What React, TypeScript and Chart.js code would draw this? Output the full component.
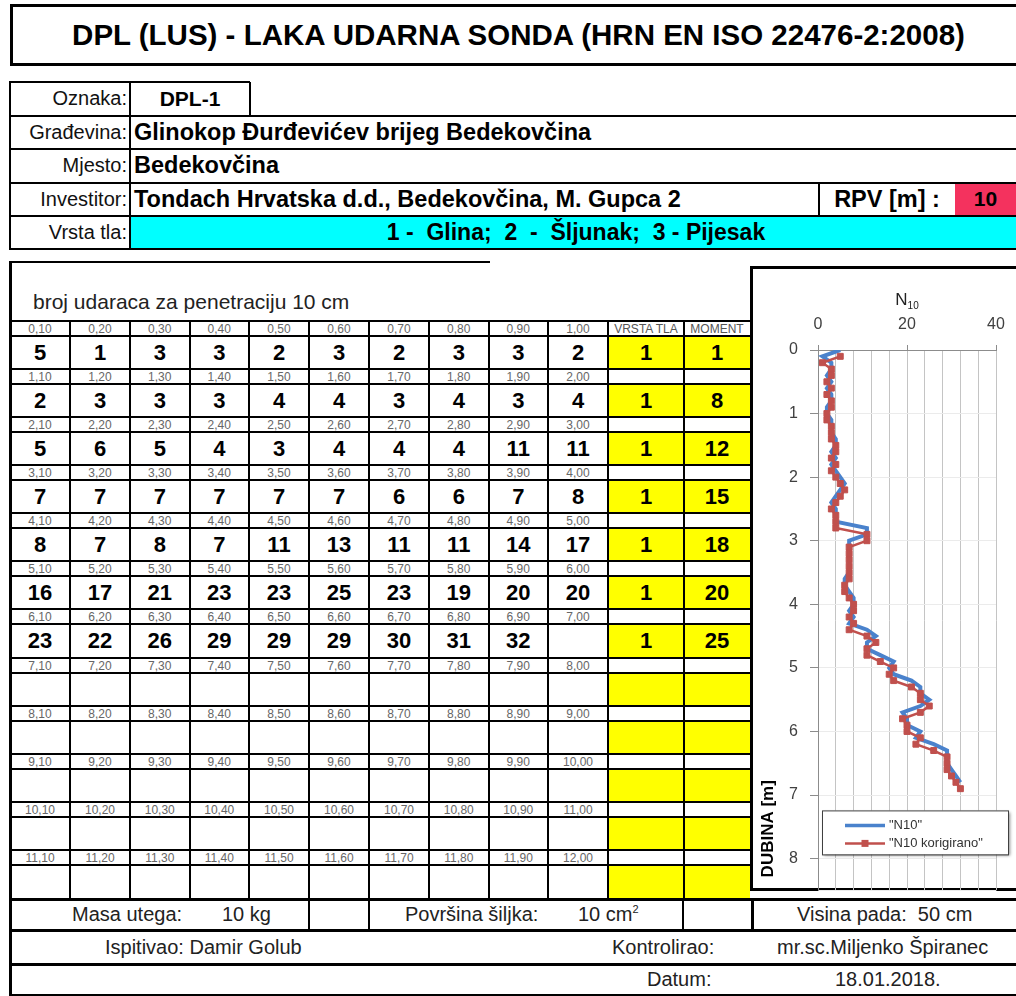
import React, { useEffect, useRef } from 'react';
import { Chart, registerables } from 'chart.js';

Chart.register(...registerables);

const FONT = '"Liberation Sans", Arial, Helvetica, sans-serif';

// ---- data read from the sheet ----
const n10Values = [
  5, 1, 3, 3, 2, 3, 2, 3, 3, 2,
  2, 3, 3, 3, 4, 4, 3, 4, 3, 4,
  5, 6, 5, 4, 3, 4, 4, 4, 11, 11,
  7, 7, 7, 7, 7, 7, 6, 6, 7, 8,
  8, 7, 8, 7, 11, 13, 11, 11, 14, 17,
  16, 17, 21, 23, 23, 25, 23, 19, 20, 20,
  23, 22, 26, 29, 29, 29, 30, 31, 32,
];
const n10Corrected = [
  5, 1, 3, 3, 2, 3, 2, 3, 3, 2,
  2, 3, 3, 3, 4, 4, 3, 4, 3, 4,
  5, 6, 5, 4, 3, 4, 4, 4, 11, 11,
  7, 7, 7, 7, 7, 7, 6, 6, 7, 8,
  8, 7, 8, 7, 11, 13, 11, 11, 14, 17,
  16, 17, 21, 23, 23, 25, 23, 19, 20, 20,
  23, 22, 26, 29, 29, 29, 30, 31, 32,
];
// depth of each blow count (bottom of the 10 cm interval)
const depths = [
  0.1, 0.2, 0.3, 0.4, 0.5, 0.6, 0.7, 0.8, 0.9, 1.0,
  1.1, 1.2, 1.3, 1.4, 1.5, 1.6, 1.7, 1.8, 1.9, 2.0,
  2.1, 2.2, 2.3, 2.4, 2.5, 2.6, 2.7, 2.8, 2.9, 3.0,
  3.1, 3.2, 3.3, 3.4, 3.5, 3.6, 3.7, 3.8, 3.9, 4.0,
  4.1, 4.2, 4.3, 4.4, 4.5, 4.6, 4.7, 4.8, 4.9, 5.0,
  5.1, 5.2, 5.3, 5.4, 5.5, 5.6, 5.7, 5.8, 5.9, 6.0,
  6.1, 6.2, 6.3, 6.4, 6.5, 6.6, 6.7, 6.8, 6.9,
];
// the plain N10 line is drawn at the top of each interval
const n10Depths = [
  0.0, 0.1, 0.2, 0.3, 0.4, 0.5, 0.6, 0.7, 0.8, 0.9,
  1.0, 1.1, 1.2, 1.3, 1.4, 1.5, 1.6, 1.7, 1.8, 1.9,
  2.0, 2.1, 2.2, 2.3, 2.4, 2.5, 2.6, 2.7, 2.8, 2.9,
  3.0, 3.1, 3.2, 3.3, 3.4, 3.5, 3.6, 3.7, 3.8, 3.9,
  4.0, 4.1, 4.2, 4.3, 4.4, 4.5, 4.6, 4.7, 4.8, 4.9,
  5.0, 5.1, 5.2, 5.3, 5.4, 5.5, 5.6, 5.7, 5.8, 5.9,
  6.0, 6.1, 6.2, 6.3, 6.4, 6.5, 6.6, 6.7, 6.8,
];
const soilTypes = [1, 1, 1, 1, 1, 1, 1];
const moments = [1, 8, 12, 15, 18, 20, 25];
const xTickLabels = [0, 20, 40];
const yTickLabels = [0, 1, 2, 3, 4, 5, 6, 7, 8];
const seriesLabels = ['"N10"', '"N10 korigirano"'];
const yAxisTitle = 'DUBINA [m]';

const BLUE = '#4a82cc';
const RED = '#c0504d';

// ---- layout geometry ----
const colX = [10, 70, 130, 189.5, 249, 309, 369, 429, 488.5, 548, 608, 684, 750];
const GRID_TOP = 321;
const BLOCK = 48.08;
const LABEL_H = 15;
const CANVAS_H = 642;

type R = { x: number; y: number; w: number; h: number; c: string };

function depthLabel(row: number, col: number) {
  const whole = row + Math.floor((col + 1) / 10);
  const frac = ((col + 1) % 10) * 10;
  return `${whole},${frac === 0 ? '00' : String(frac)}`;
}

const titlePlugin = {
  id: 'n10Title',
  afterDraw(chart: any) {
    const { ctx, chartArea } = chart;
    const cx = (chartArea.left + chartArea.right) / 2;
    ctx.save();
    ctx.fillStyle = '#222';
    ctx.textBaseline = 'alphabetic';
    ctx.font = `17px ${FONT}`;
    const wN = ctx.measureText('N').width;
    ctx.font = `10px ${FONT}`;
    const wS = ctx.measureText('10').width;
    const x0 = cx - (wN + wS) / 2;
    ctx.font = `17px ${FONT}`;
    ctx.fillText('N', x0, 35);
    ctx.font = `10px ${FONT}`;
    ctx.fillText('10', x0 + wN, 39);
    // vertical axis title, anchored at the bottom of the plot
    ctx.save();
    ctx.translate(14, chartArea.bottom - 13);
    ctx.rotate(-Math.PI / 2);
    ctx.font = `bold 17px ${FONT}`;
    ctx.fillStyle = '#000';
    ctx.textAlign = 'left';
    ctx.textBaseline = 'middle';
    ctx.fillText(yAxisTitle, 0, 0);
    ctx.restore();
    ctx.restore();
  },
};

const legendPlugin = {
  id: 'boxLegend',
  afterDraw(chart: any) {
    const { ctx, chartArea } = chart;
    const x = chartArea.left + 4;
    const y = chartArea.bottom - 80;
    const w = 186;
    const h = 44;
    ctx.save();
    ctx.shadowColor = 'rgba(0,0,0,0.45)';
    ctx.shadowBlur = 3;
    ctx.shadowOffsetX = 2;
    ctx.shadowOffsetY = 2;
    ctx.fillStyle = '#ffffff';
    ctx.fillRect(x, y, w, h);
    ctx.shadowColor = 'rgba(0,0,0,0)';
    ctx.strokeStyle = '#404040';
    ctx.lineWidth = 1;
    ctx.strokeRect(x + 0.5, y + 0.5, w, h);
    [0, 1].forEach((di, i) => {
      const ds = chart.data.datasets[di];
      const ly = y + 15 + i * 18;
      ctx.strokeStyle = ds.borderColor;
      ctx.lineWidth = Math.min(ds.borderWidth, 3.5);
      ctx.beginPath();
      ctx.moveTo(x + 23, ly);
      ctx.lineTo(x + 63, ly);
      ctx.stroke();
      if (ds.pointRadius > 0) {
        ctx.fillStyle = ds.borderColor;
        ctx.fillRect(x + 43 - 3.5, ly - 3.5, 7, 7);
      }
      ctx.fillStyle = '#333';
      ctx.font = `13px ${FONT}`;
      ctx.textBaseline = 'middle';
      ctx.fillText(ds.label, x + 67, ly);
    });
    ctx.restore();
  },
};

function N10Chart() {
  const ref = useRef<HTMLCanvasElement | null>(null);
  useEffect(() => {
    if (!ref.current) return;
    const chart = new Chart(ref.current, {
      type: 'scatter',
      data: {
        datasets: [
          {
            label: seriesLabels[0],
            data: n10Values.map((v, i) => ({ x: v, y: n10Depths[i] })),
            showLine: true,
            borderColor: BLUE,
            backgroundColor: BLUE,
            borderWidth: 4,
            pointRadius: 0,
            order: 1,
          } as any,
          {
            label: seriesLabels[1],
            data: n10Corrected.map((v, i) => ({ x: v, y: depths[i] })),
            showLine: true,
            borderColor: RED,
            backgroundColor: RED,
            borderWidth: 2.5,
            pointStyle: 'rect',
            pointRadius: 4.2,
            pointBorderWidth: 1,
            pointBackgroundColor: RED,
            pointBorderColor: RED,
            order: 0,
          } as any,
        ],
      },
      options: {
        animation: false,
        responsive: false,
        maintainAspectRatio: false,
        layout: { padding: { top: 0, right: 20, bottom: 0, left: 0 } },
        plugins: { legend: { display: false }, tooltip: { enabled: false }, title: { display: false } },
        scales: {
          x: {
            type: 'linear',
            position: 'top',
            min: 0,
            max: 40,
            ticks: {
              stepSize: 4,
              autoSkip: false,
              maxRotation: 0,
              padding: 11,
              color: '#404040',
              font: { size: 16, family: FONT },
              callback: (v: any) => (xTickLabels.includes(Number(v)) ? String(v) : ''),
            },
            grid: {
              color: '#c4c4c4',
              lineWidth: 1,
              tickLength: 5,
              tickColor: (c: any) => (c.tick && xTickLabels.includes(c.tick.value) ? '#8c8c8c' : 'rgba(0,0,0,0)'),
            },
            border: { color: '#8c8c8c' },
            afterFit: (s: any) => { s.height = 80; },
          },
          y: {
            type: 'linear',
            reverse: true,
            min: 0,
            max: 8.5,
            ticks: {
              stepSize: 1,
              autoSkip: false,
              padding: 12,
              color: '#404040',
              font: { size: 16, family: FONT },
              callback: (v: any) => (yTickLabels.includes(Number(v)) ? String(v) : ''),
            },
            grid: {
              color: '#ebebeb',
              lineWidth: 1,
              tickLength: 8,
              tickColor: (c: any) => (c.tick && yTickLabels.includes(c.tick.value) ? '#8c8c8c' : 'rgba(0,0,0,0)'),
            },
            border: { color: '#8c8c8c' },
            title: { display: false },
            afterFit: (s: any) => { s.width = 64; },
          },
        },
      } as any,
      plugins: [titlePlugin, legendPlugin],
    });
    return () => chart.destroy();
  }, []);
  return (
    <canvas
      ref={ref}
      width={262}
      height={CANVAS_H}
      style={{ position: 'absolute', left: 754, top: 270, width: 262, height: CANVAS_H }}
    />
  );
}

function Txt(p: {
  x: number; y: number; w: number; h: number; t: React.ReactNode; size: number;
  bold?: boolean; align?: 'left' | 'center' | 'right'; color?: string;
}) {
  const jc = p.align === 'left' ? 'flex-start' : p.align === 'right' ? 'flex-end' : 'center';
  return (
    <div
      style={{
        position: 'absolute', left: p.x, top: p.y, width: p.w, height: p.h,
        display: 'flex', alignItems: 'center', justifyContent: jc,
        font: `${p.bold ? 'bold ' : ''}${p.size}px ${FONT}`, color: p.color || '#000',
        whiteSpace: 'pre', overflow: 'visible',
      }}
    >
      {p.t}
    </div>
  );
}

export default function App() {
  const rects: R[] = [];
  const fill = (x1: number, y1: number, x2: number, y2: number, c: string) => rects.push({ x: x1, y: y1, w: x2 - x1, h: y2 - y1, c });
  const hl = (x1: number, x2: number, y: number, w = 2) => rects.push({ x: x1, y: y - w / 2, w: x2 - x1, h: w, c: '#000' });
  const vl = (x: number, y1: number, y2: number, w = 2) => rects.push({ x: x - w / 2, y: y1, w, h: y2 - y1, c: '#000' });

  // header
  const HR = [82, 115.5, 149, 182.5, 215.5, 249];
  fill(130, HR[4], 1016, HR[5], '#00ffff');
  fill(955, HR[3] + 1, 1016, HR[4] - 1, '#f4325e');
  hl(10, 250, HR[0]);
  for (let i = 1; i < 5; i++) hl(10, 1016, HR[i]);
  hl(10, 1016, HR[5], 2.5);
  vl(10, HR[0] - 1, HR[5] + 1, 2.5);
  vl(130, HR[0], HR[5]);
  vl(250, HR[0], HR[1]);
  vl(819, HR[3], HR[4]);

  // data grid
  for (let b = 0; b < 12; b++) {
    const lt = GRID_TOP + b * BLOCK;
    fill(608, lt + LABEL_H, 750, lt + BLOCK, '#ffff00');
  }
  hl(10, 490, 262, 2.5);
  vl(10, 261, 996, 3);
  for (let b = 0; b < 12; b++) {
    const lt = GRID_TOP + b * BLOCK;
    hl(10, 750, lt);
    hl(10, 750, lt + LABEL_H);
  }
  for (let i = 1; i < 12; i++) vl(colX[i], GRID_TOP, 899);

  // footer
  const FR = [899, 930, 964, 995];
  hl(10, 1016, FR[0], 3);
  hl(10, 1016, FR[1], 3);
  hl(10, 1016, FR[2], 3);
  hl(10, 1016, FR[3], 3);
  vl(309, FR[0], FR[1]);
  vl(369, FR[0], FR[1]);
  vl(683, FR[0], FR[1]);
  vl(752, FR[0], FR[1], 3);

  const texts: React.ReactNode[] = [];
  let k = 0;
  const T = (x: number, y: number, w: number, h: number, t: React.ReactNode, size: number, bold = false, align: 'left' | 'center' | 'right' = 'center', color = '#000') =>
    texts.push(<Txt key={k++} x={x} y={y} w={w} h={h} t={t} size={size} bold={bold} align={align} color={color} />);

  // header texts
  const labels = ['Oznaka:', 'Građevina:', 'Mjesto:', 'Investitor:', 'Vrsta tla:'];
  labels.forEach((l, i) => T(10, HR[i], 117, HR[i + 1] - HR[i], l, 20, false, 'right', '#111'));
  T(130, HR[0], 120, HR[1] - HR[0], 'DPL-1', 21, true);
  T(134, HR[1], 600, HR[2] - HR[1], 'Glinokop Đurđevićev brijeg Bedekovčina', 23.5, true, 'left');
  T(134, HR[2], 600, HR[3] - HR[2], 'Bedekovčina', 23.5, true, 'left');
  T(134, HR[3], 680, HR[4] - HR[3], 'Tondach Hrvatska d.d., Bedekovčina, M. Gupca 2', 23.5, true, 'left');
  T(819, HR[3], 136, HR[4] - HR[3], 'RPV [m] :', 23.5, true);
  T(955, HR[3], 61, HR[4] - HR[3], '10', 21, true);
  T(130, HR[4], 892, HR[5] - HR[4], '1 -  Glina;  2  -  Šljunak;  3 - Pijesak', 23, true);

  // caption
  T(33, 288, 400, 28, 'broj udaraca za penetraciju 10 cm', 21, false, 'left', '#222');

  // table cells
  for (let b = 0; b < 12; b++) {
    const lt = GRID_TOP + b * BLOCK;
    for (let c = 0; c < 10; c++) {
      T(colX[c], lt, colX[c + 1] - colX[c], LABEL_H + 1, depthLabel(b, c), 12, false, 'center', '#666');
      const idx = b * 10 + c;
      if (idx < n10Values.length) {
        T(colX[c], lt + LABEL_H, colX[c + 1] - colX[c], BLOCK - LABEL_H, String(n10Values[idx]), 22, true);
      }
    }
    if (b === 0) {
      T(colX[10], lt, colX[11] - colX[10], LABEL_H + 1, 'VRSTA TLA', 12, false, 'center', '#555');
      T(colX[11], lt, colX[12] - colX[11], LABEL_H + 1, 'MOMENT', 12, false, 'center', '#555');
    }
    if (b < soilTypes.length) {
      T(colX[10], lt + LABEL_H, colX[11] - colX[10], BLOCK - LABEL_H, String(soilTypes[b]), 22, true);
      T(colX[11], lt + LABEL_H, colX[12] - colX[11], BLOCK - LABEL_H, String(moments[b]), 22, true);
    }
  }

  // footer texts
  T(72, FR[0], 200, FR[1] - FR[0], 'Masa utega:', 20, false, 'left', '#222');
  T(222, FR[0], 100, FR[1] - FR[0], '10 kg', 20, false, 'left', '#222');
  T(405, FR[0], 200, FR[1] - FR[0], 'Površina šiljka:', 20, false, 'left', '#222');
  T(578, FR[0], 100, FR[1] - FR[0], <span>10 cm<sup style={{ fontSize: 11 }}>2</sup></span>, 20, false, 'left', '#222');
  T(797, FR[0], 219, FR[1] - FR[0], 'Visina pada:  50 cm', 20, false, 'left', '#222');
  T(105, FR[1], 300, FR[2] - FR[1], 'Ispitivao: Damir Golub', 20, false, 'left', '#222');
  T(612, FR[1], 140, FR[2] - FR[1], 'Kontrolirao:', 20, false, 'left', '#222');
  T(777, FR[1], 239, FR[2] - FR[1], 'mr.sc.Miljenko Špiranec', 20, false, 'left', '#222');
  T(647, FR[2], 120, FR[3] - FR[2], 'Datum:', 20, false, 'left', '#222');
  T(835, FR[2], 160, FR[3] - FR[2], '18.01.2018.', 20, false, 'left', '#222');

  return (
    <div style={{ position: 'absolute', left: 0, top: 0, width: 1016, height: 996, overflow: 'hidden', background: '#fff' }}>
      <div
        style={{
          position: 'absolute', left: 10, top: 4, width: 1017, height: 62, boxSizing: 'border-box',
          border: '3px solid #000', display: 'flex', alignItems: 'center', justifyContent: 'center',
          font: `bold 29.5px ${FONT}`, color: '#000', whiteSpace: 'nowrap',
        }}
      >
        DPL (LUS) - LAKA UDARNA SONDA (HRN EN ISO 22476-2:2008)
      </div>
      {rects.map((r, i) => (
        <div key={'r' + i} style={{ position: 'absolute', left: r.x, top: r.y, width: r.w, height: r.h, background: r.c }} />
      ))}
      {texts}
      <div
        style={{
          position: 'absolute', left: 750, top: 266, width: 290, height: 625, boxSizing: 'border-box',
          border: '3px solid #000', background: '#fff',
        }}
      />
      <N10Chart />
    </div>
  );
}
